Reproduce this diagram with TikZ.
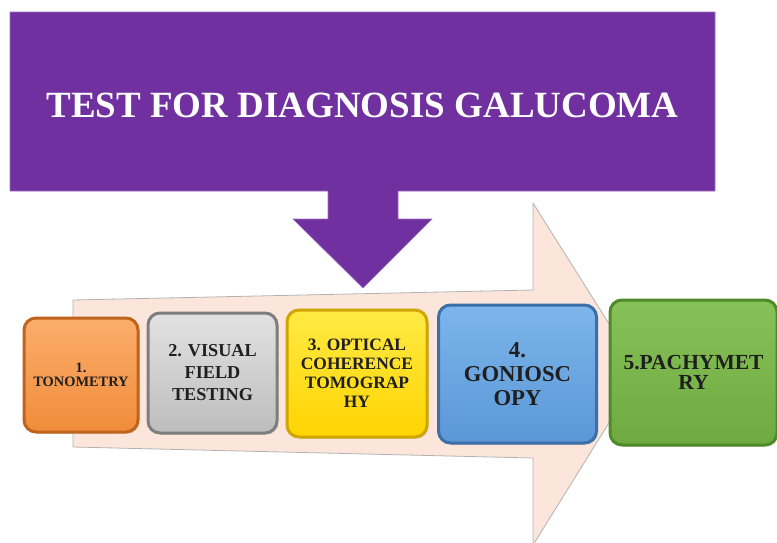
\documentclass[tikz,border=0pt]{standalone}
\usepackage{fontspec}
\setmainfont{Liberation Serif}
\usetikzlibrary{shadows}
\definecolor{titlepurple}{HTML}{7030A0}
\definecolor{paleback}{HTML}{FCE6DB}
\definecolor{orangein}{HTML}{FBAE6C}\definecolor{orangeout}{HTML}{F08C3A}\definecolor{orangeline}{HTML}{C0631C}
\definecolor{grayin}{HTML}{E2E2E2}\definecolor{grayout}{HTML}{BDBDBD}\definecolor{grayline}{HTML}{7E7E7E}
\definecolor{yellowin}{HTML}{FFEA45}\definecolor{yellowout}{HTML}{FFD400}\definecolor{yellowline}{HTML}{CFA600}
\definecolor{bluein}{HTML}{7DB6EC}\definecolor{blueout}{HTML}{5A97D6}\definecolor{blueline}{HTML}{3A6FA8}
\definecolor{greenin}{HTML}{86C257}\definecolor{greenout}{HTML}{6EAA40}\definecolor{greenline}{HTML}{4F8A2A}
\tikzset{
  testbox/.style={rounded corners=12pt,line width=3pt,align=center,inner sep=2pt,
    font=\bfseries,text=black!88,drop shadow={opacity=0.3,shadow xshift=1.5pt,shadow yshift=-1.5pt}},
  boxcol/.style args={#1}{top color=#1in,bottom color=#1out,draw=#1line}
}
\begin{document}
\begin{tikzpicture}[x=1pt,y=-1pt,line join=round]
			\useasboundingbox (0,0) rectangle (777,542);
			% big pale arrow
			\coordinate (P1) at (73,300);
			\coordinate (P2) at (533,290);
			\coordinate (P3) at (533,203);
			\coordinate (P4) at (640,373);
			\coordinate (P5) at (533,545);
			\coordinate (P6) at (533,458);
			\coordinate (P7) at (73,447);
			\fill[paleback,draw=gray!60,line width=0.8pt] (P1)--(P2)--(P3)--(P4)--(P5)--(P6)--(P7)--cycle;
			% title block with down arrow
			\fill[titlepurple,draw=titlepurple!70!white,line width=0.6pt]
				(10,12)--(715,12)--(715,191)--(398,191)--(398,219)--(432,219)--(363,288)
				--(293,219)--(328,219)--(328,191)--(10,191)--cycle;
			\node (title) at (362.5,117) [anchor=base,text=white,font=\bfseries\fontsize{37}{40}\selectfont]
				{TEST FOR DIAGNOSIS GALUCOMA};
			% test boxes
			\node (tono) at (81,375) [testbox,boxcol=orange,minimum width=114pt,minimum height=114pt,
				font=\bfseries\fontsize{14.4}{14}\selectfont] {1.\\TONOMETRY};
			\node (visual) at (212.5,373) [testbox,boxcol=gray,minimum width=129pt,minimum height=120pt,
				font=\bfseries\fontsize{18.2}{22}\selectfont] {2. VISUAL\\FIELD\\TESTING};
			\node (oct) at (357,373.5) [testbox,boxcol=yellow,minimum width=140pt,minimum height=127pt,
				font=\bfseries\fontsize{17.4}{19}\selectfont] {3. OPTICAL\\COHERENCE\\TOMOGRAP\\HY};
			\node (gonio) at (517.5,374) [testbox,boxcol=blue,minimum width=158pt,minimum height=138pt,
				font=\bfseries\fontsize{22.7}{24}\selectfont] {4.\\GONIOSC\\OPY};
			\node (pachy) at (693.5,372.5) [testbox,boxcol=green,minimum width=167pt,minimum height=145pt,
				font=\bfseries\fontsize{21.5}{20}\selectfont] {5.PACHYMET\\RY};
		\end{tikzpicture}
\end{document}
